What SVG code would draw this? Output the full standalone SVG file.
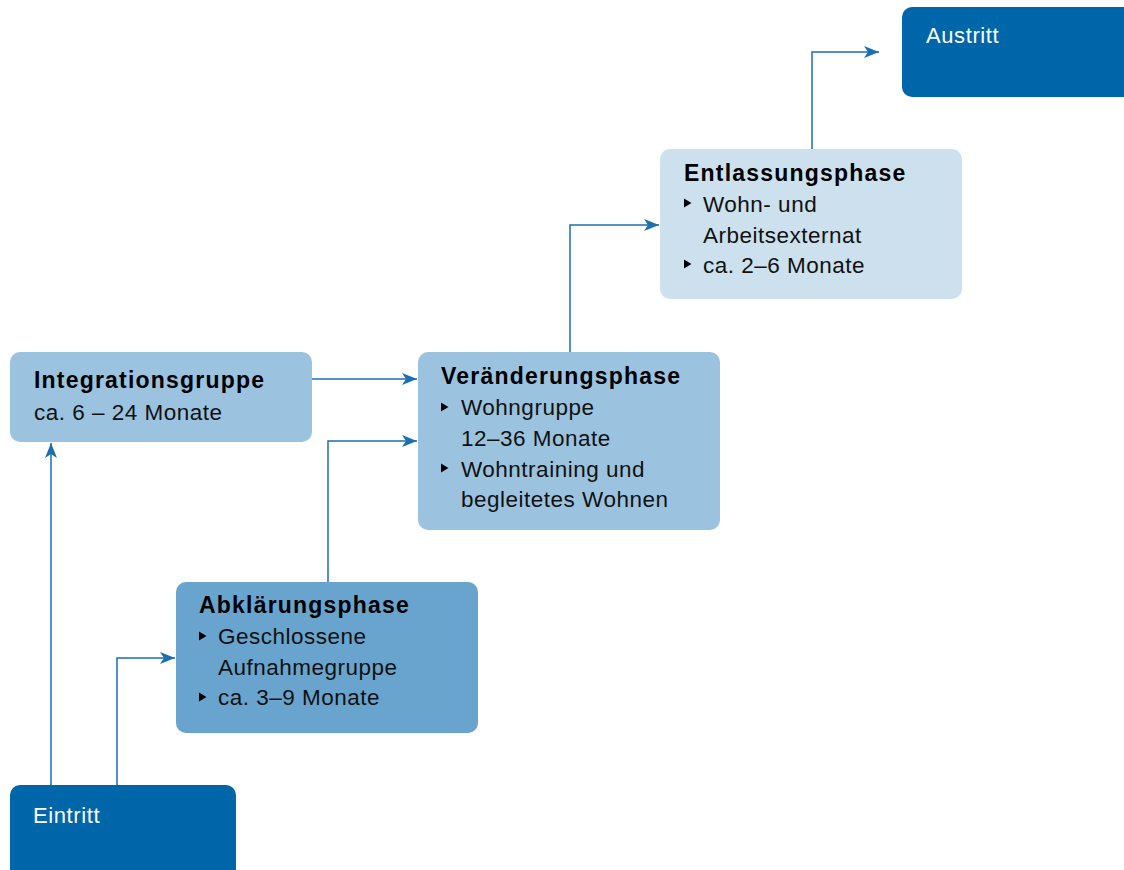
<svg xmlns="http://www.w3.org/2000/svg" width="1124" height="870" viewBox="0 0 1124 870">
<style>
.dark{fill:#0066AA}
.l1{fill:#68A4CE}
.l2{fill:#9BC3DF}
.l3{fill:#CCE0EE}
.t{font-family:"Liberation Sans",Arial,sans-serif;font-size:22.5px;letter-spacing:0.5px;fill:#111}
.b{font-family:"Liberation Sans",Arial,sans-serif;font-size:23px;font-weight:bold;letter-spacing:1.2px;fill:#000}
.w{font-family:"Liberation Sans",Arial,sans-serif;font-size:22px;letter-spacing:0.6px;fill:#fff}
.bul{fill:#000}
.c{fill:none;stroke:#1C6FB0;stroke-width:1.5}
</style>
<defs>
<marker id="arr" markerUnits="userSpaceOnUse" markerWidth="18" markerHeight="14" refX="15" refY="6" orient="auto">
<path d="M0,0 L15,6 L0,12 L4,6 Z" fill="#1C6FB0"/>
</marker>
</defs>
<rect width="1124" height="870" fill="#fff"/>
<g id="connectors">
<path class="c" d="M51,785 V443" marker-end="url(#arr)"/>
<path class="c" d="M117,785 V658 H175" marker-end="url(#arr)"/>
<path class="c" d="M328,582 V441 H417" marker-end="url(#arr)"/>
<path class="c" d="M312,379 H417" marker-end="url(#arr)"/>
<path class="c" d="M570,352 V225 H659" marker-end="url(#arr)"/>
<path class="c" d="M812,149 V52 H879" marker-end="url(#arr)"/>
</g>
<g id="eintritt">
<rect class="dark" x="10" y="785" width="226" height="100" rx="10"/>
<text class="w" x="33" y="823">Eintritt</text>
</g>
<g id="abklaerung">
<rect class="l1" x="176" y="582" width="302" height="151" rx="10"/>
<text class="b" x="199" y="613">Abklärungsphase</text>
<path class="bul" d="M199,631.5 L206.5,636 L199,640.5 Z"/>
<text class="t" x="218" y="644">Geschlossene</text>
<text class="t" x="218" y="675">Aufnahmegruppe</text>
<path class="bul" d="M199,692.5 L206.5,697 L199,701.5 Z"/>
<text class="t" x="218" y="705">ca. 3–9 Monate</text>
</g>
<g id="integration">
<rect class="l2" x="10" y="352" width="302" height="90" rx="10"/>
<text class="b" x="34" y="388">Integrationsgruppe</text>
<text class="t" x="34" y="420">ca. 6 – 24 Monate</text>
</g>
<g id="veraenderung">
<rect class="l2" x="418" y="352" width="302" height="178" rx="10"/>
<text class="b" x="441" y="384">Veränderungsphase</text>
<path class="bul" d="M441,402.5 L448.5,407 L441,411.5 Z"/>
<text class="t" x="461" y="415">Wohngruppe</text>
<text class="t" x="461" y="446">12–36 Monate</text>
<path class="bul" d="M441,463.5 L448.5,468 L441,472.5 Z"/>
<text class="t" x="461" y="476.5">Wohntraining und</text>
<text class="t" x="461" y="506.5">begleitetes Wohnen</text>
</g>
<g id="entlassung">
<rect class="l3" x="660" y="149" width="302" height="150" rx="10"/>
<text class="b" x="684" y="181">Entlassungsphase</text>
<path class="bul" d="M684,198.5 L691.5,203 L684,207.5 Z"/>
<text class="t" x="703" y="211.5">Wohn- und</text>
<text class="t" x="703" y="242.5">Arbeitsexternat</text>
<path class="bul" d="M684,259.5 L691.5,264 L684,268.5 Z"/>
<text class="t" x="703" y="272.5">ca. 2–6 Monate</text>
</g>
<g id="austritt">
<rect class="dark" x="902" y="7" width="240" height="90" rx="10"/>
<text class="w" x="926" y="43">Austritt</text>
</g>
</svg>
